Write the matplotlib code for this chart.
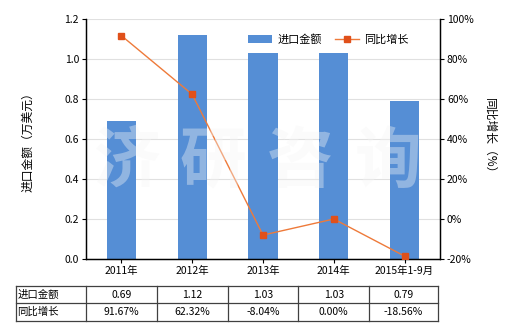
import matplotlib
matplotlib.use("Agg")
import matplotlib.pyplot as plt
from matplotlib.lines import Line2D

plt.rcParams['font.family'] = ['Noto Sans CJK SC', 'DejaVu Sans']

categories = ["2011年", "2012年", "2013年", "2014年", "2015年1-9月"]
import_values = [0.69, 1.12, 1.03, 1.03, 0.79]
growth_values = [91.67, 62.32, -8.04, 0.00, -18.56]
import_labels = ["0.69", "1.12", "1.03", "1.03", "0.79"]
growth_labels = ["91.67%", "62.32%", "-8.04%", "0.00%", "-18.56%"]
left_ticks = [0.0, 0.2, 0.4, 0.6, 0.8, 1.0, 1.2]
right_ticks = [-20, 0, 20, 40, 60, 80, 100]
watermark_chars = ["济", "研", "咨", "询"]

W, H = 520, 330
fig = plt.figure(figsize=(W / 100, H / 100), dpi=100)
L, R, T, B = 86, 440, 19, 259
ax = fig.add_axes([L / W, 1 - B / H, (R - L) / W, (B - T) / H])
ax2 = ax.twinx()

bar_color = "#558ED5"
line_color = "#E0501A"
fs = 7.5

x = list(range(len(categories)))
bars = ax.bar(x, import_values, width=0.41, color=bar_color, zorder=2, label="进口金额")
ax.set_xlim(-0.5, len(categories) - 0.5)
ax.set_ylim(0, 1.2)
ax.set_yticks(left_ticks)
ax.set_yticklabels([f"{v:.1f}" for v in left_ticks], fontsize=fs)
ax.set_xticks(x)
ax.set_xticklabels(categories, fontsize=fs)
ax.grid(axis='y', color="#e0e0e0", linewidth=0.8, zorder=0)
ax.set_axisbelow(True)

ln, = ax2.plot(x, growth_values, color="#EE7A3A", linewidth=1.0, marker='s',
               markersize=4.5, markerfacecolor=line_color, markeredgecolor=line_color,
               zorder=3, label="同比增长")
ax2.set_ylim(-20, 100)
ax2.set_yticks(right_ticks)
ax2.set_yticklabels([f"{v}%" for v in right_ticks], fontsize=fs)

for a in (ax, ax2):
    a.spines['top'].set_visible(False)
    for s in ('left', 'right', 'bottom'):
        a.spines[s].set_linewidth(0.9)
        a.spines[s].set_color('black')
    a.tick_params(length=3, width=0.8, pad=2, colors='black')

ax.set_ylabel("进口金额（万美元）", fontsize=8.5, labelpad=22)
ax2.set_ylabel("同比增长（%）", fontsize=8.5, rotation=-90, labelpad=16)

leg = ax.legend([bars, ln], ["进口金额", "同比增长"], loc='upper right',
                bbox_to_anchor=(0.925, 0.955), borderaxespad=0, ncol=2, frameon=False,
                fontsize=8, handlelength=2.2, columnspacing=1.1, handletextpad=0.5)

# watermark
wm_x = [127, 213, 300, 388]
for ch, xx in zip(watermark_chars, wm_x):
    fig.text(xx / W, 1 - 162 / H, ch, fontsize=48, color=(0.96, 0.96, 0.96),
             alpha=0.38, ha='center', va='center', zorder=10, fontweight='bold')

# table
tl, tr = 15.5, 438
rows_y = [286, 303, 321]
col_x = [tl, L] + [L + (R - L) / len(categories) * (i + 1) for i in range(len(categories) - 1)] + [tr]
lc = "#404040"
for yy in rows_y:
    fig.add_artist(Line2D([tl / W, tr / W], [1 - yy / H, 1 - yy / H], color=lc, linewidth=0.9))
for xx in col_x:
    fig.add_artist(Line2D([xx / W, xx / W], [1 - rows_y[0] / H, 1 - rows_y[-1] / H], color=lc, linewidth=0.9))
row_names = ["进口金额", "同比增长"]
row_vals = [import_labels, growth_labels]
for r in range(2):
    yc = 1 - (rows_y[r] + rows_y[r + 1]) / 2 / H
    fig.text((tl + 2) / W, yc, row_names[r], fontsize=fs, ha='left', va='center')
    for i in range(len(categories)):
        xc = (col_x[i + 1] + col_x[i + 2]) / 2 / W
        fig.text(xc, yc, row_vals[r][i], fontsize=fs, ha='center', va='center')

fig.savefig("out.png", dpi=100)
